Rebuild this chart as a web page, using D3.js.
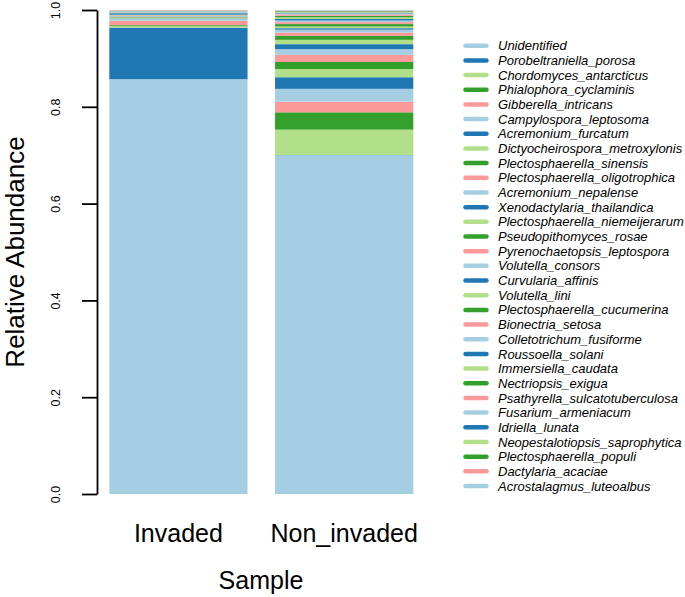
<!DOCTYPE html>
<html>
<head>
<meta charset="utf-8">
<script src="https://cdn.jsdelivr.net/npm/d3@7"></script>
<style>
  html, body { margin: 0; padding: 0; background: #fff; }
  svg { display: block; font-family: "Liberation Sans", Arial, Helvetica, sans-serif; }
</style>
</head>
<body>
<svg id="chart" width="685" height="597"></svg>
<script>
// ---- data ----
const samples = ["Invaded", "Non_invaded"];
const taxa = [
  "Unidentified", "Porobeltraniella_porosa", "Chordomyces_antarcticus", "Phialophora_cyclaminis",
  "Gibberella_intricans", "Campylospora_leptosoma", "Acremonium_furcatum", "Dictyocheirospora_metroxylonis",
  "Plectosphaerella_sinensis", "Plectosphaerella_oligotrophica", "Acremonium_nepalense", "Xenodactylaria_thailandica",
  "Plectosphaerella_niemeijerarum", "Pseudopithomyces_rosae", "Pyrenochaetopsis_leptospora", "Volutella_consors",
  "Curvularia_affinis", "Volutella_lini", "Plectosphaerella_cucumerina", "Bionectria_setosa",
  "Colletotrichum_fusiforme", "Roussoella_solani", "Immersiella_caudata", "Nectriopsis_exigua",
  "Psathyrella_sulcatotuberculosa", "Fusarium_armeniacum", "Idriella_lunata", "Neopestalotiopsis_saprophytica",
  "Plectosphaerella_populi", "Dactylaria_acaciae", "Acrostalagmus_luteoalbus"
];
const invadedValues = [
  0.857, 0.1066, 0.003, 0.002, 0.009, 0.0038, 0.001, 0.0015,
  0.001, 0.001, 0.001, 0.0005, 0.001, 0.0005, 0.001, 0.0005,
  0.003, 0.0005, 0.0005, 0.0005, 0.001, 0.0005, 0.0003, 0.0003,
  0.0003, 0.0005, 0.0003, 0.0003, 0.0003, 0.001, 0.0003
];
const nonInvadedValues = [
  0.700, 0.0005, 0.0523, 0.0358, 0.022, 0.0265, 0.024, 0.017,
  0.0145, 0.015, 0.0115, 0.0103, 0.009, 0.008, 0.007, 0.006,
  0.003, 0.0035, 0.005, 0.004, 0.0035, 0.003, 0.0035, 0.003,
  0.003, 0.002, 0.0015, 0.0015, 0.0015, 0.0015, 0.0015
];
const palette = ["#A6CEE3", "#1F78B4", "#B2DF8A", "#33A02C", "#FB9A99"];
const yTicks = [0, 0.2, 0.4, 0.6, 0.8, 1.0];
const yTickLabels = ["0.0", "0.2", "0.4", "0.6", "0.8", "1.0"];

// ---- build table ----
const table = samples.map((s, i) => {
  const row = { sample: s };
  const vals = i === 0 ? invadedValues : nonInvadedValues;
  taxa.forEach((t, j) => { row[t] = vals[j]; });
  return row;
});

const svg = d3.select("#chart");

const x = d3.scaleBand().domain(samples).range([109.3, 413.3]).paddingInner(0.166).paddingOuter(0);
const y = d3.scaleLinear().domain([0, 1]).range([494, 10]);
const color = d3.scaleOrdinal().domain(taxa).range(taxa.map((t, i) => palette[i % 5]));

const stack = d3.stack().keys(taxa);
const series = stack(table);

svg.append("g").selectAll("g").data(series).join("g")
  .attr("fill", d => color(d.key))
  .selectAll("rect").data(d => d).join("rect")
  .attr("x", d => x(d.data.sample))
  .attr("width", x.bandwidth())
  .attr("y", d => y(Math.min(1, d[1])))
  .attr("height", d => Math.max(0, y(d[0]) - y(Math.min(1, d[1]))));

// y axis
const yAxis = d3.axisLeft(y).tickValues(yTicks).tickFormat((d, i) => yTickLabels[i]).tickSize(15).tickSizeOuter(0);
const gy = svg.append("g").attr("transform", "translate(97,0)").call(yAxis);
gy.select(".domain").attr("stroke", "#000").attr("stroke-width", 1.8);
gy.selectAll(".tick line").attr("stroke", "#000").attr("stroke-width", 1.8);
gy.selectAll(".tick text")
  .attr("font-size", 12.5)
  .attr("font-family", "Liberation Sans, Arial, sans-serif")
  .attr("fill", "#000")
  .attr("text-anchor", "middle")
  .attr("dy", null)
  .attr("x", null)
  .attr("transform", "translate(-37,0) rotate(-90)");

// x labels
svg.append("g").selectAll("text").data(samples).join("text")
  .attr("x", d => x(d) + x.bandwidth() / 2)
  .attr("y", 541.5)
  .attr("text-anchor", "middle")
  .attr("font-size", 25)
  .text(d => d);

// axis titles
svg.append("text")
  .attr("x", 261).attr("y", 589)
  .attr("text-anchor", "middle")
  .attr("font-size", 25)
  .text("Sample");

svg.append("text")
  .attr("transform", "translate(24,252) rotate(-90)")
  .attr("text-anchor", "middle")
  .attr("font-size", 26)
  .text("Relative Abundance");

// legend
const legY = d3.scaleLinear().domain([0, taxa.length - 1]).range([45.7, 486]);
const leg = svg.append("g").selectAll("g").data(taxa).join("g")
  .attr("transform", (d, i) => `translate(0,${legY(i)})`);
leg.append("line")
  .attr("x1", 465.5).attr("x2", 486.5)
  .attr("stroke", d => color(d))
  .attr("stroke-width", 4.5)
  .attr("stroke-linecap", "round");
leg.append("text")
  .attr("x", 498)
  .attr("y", 4.6)
  .attr("font-size", 13)
  .attr("font-style", "italic")
  .text(d => d);
</script>
</body>
</html>
